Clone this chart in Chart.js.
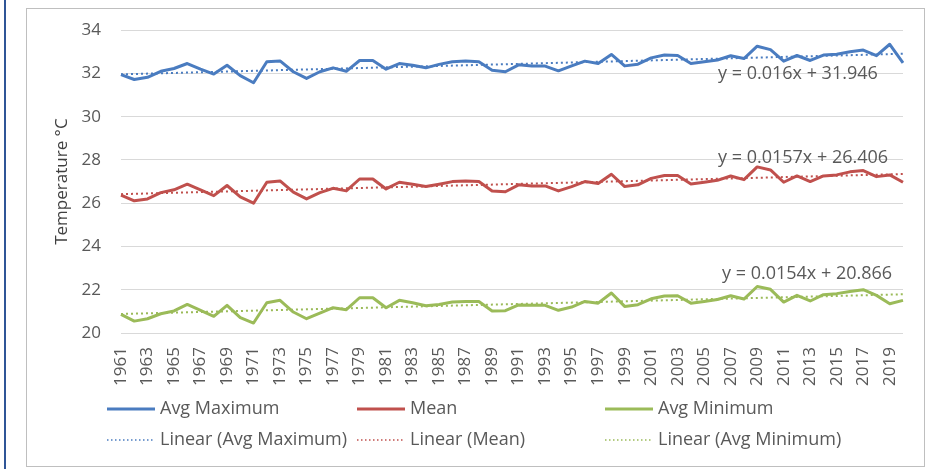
<!DOCTYPE html>
<html><head><meta charset="utf-8">
<script src="https://cdn.jsdelivr.net/npm/chart.js@4/dist/chart.umd.min.js"></script>
<style>
html,body{margin:0;padding:0;background:#fff;}
#wrap{position:relative;width:935px;height:469px;overflow:hidden;background:#fff;}
#bar{position:absolute;left:4px;top:0;width:2px;height:469px;background:#2F5597;}
#box{position:absolute;left:26px;top:8px;width:897px;height:457px;border:1px solid #bfbfbf;}
canvas{position:absolute;left:0;top:0;}
</style></head><body>
<div id="wrap"><div id="bar"></div><div id="box"></div><canvas id="c" width="935" height="469"></canvas></div>
<script>
const years = ['1961','1962','1963','1964','1965','1966','1967','1968','1969','1970','1971','1972','1973','1974','1975','1976','1977','1978','1979','1980','1981','1982','1983','1984','1985','1986','1987','1988','1989','1990','1991','1992','1993','1994','1995','1996','1997','1998','1999','2000','2001','2002','2003','2004','2005','2006','2007','2008','2009','2010','2011','2012','2013','2014','2015','2016','2017','2018','2019','2020'];

const avgMax = [31.95,31.72,31.82,32.10,32.23,32.46,32.20,31.97,32.38,31.90,31.57,32.54,32.58,32.08,31.77,32.08,32.26,32.10,32.60,32.60,32.20,32.46,32.38,32.26,32.42,32.54,32.58,32.54,32.15,32.08,32.40,32.35,32.34,32.12,32.35,32.57,32.46,32.88,32.35,32.43,32.72,32.85,32.83,32.46,32.54,32.62,32.82,32.69,33.26,33.10,32.57,32.83,32.60,32.85,32.89,33.00,33.08,32.82,33.35,32.49];

const mean = [26.38,26.11,26.20,26.49,26.62,26.88,26.62,26.35,26.82,26.29,26.00,26.97,27.03,26.51,26.20,26.49,26.69,26.57,27.12,27.12,26.66,26.97,26.88,26.77,26.88,27.00,27.03,27.00,26.57,26.53,26.85,26.80,26.80,26.57,26.77,27.00,26.91,27.34,26.77,26.85,27.15,27.28,27.28,26.89,26.97,27.06,27.26,27.09,27.68,27.54,26.97,27.26,27.00,27.26,27.31,27.45,27.51,27.23,27.31,26.97];

const avgMin = [20.86,20.55,20.66,20.89,21.02,21.32,21.05,20.77,21.28,20.71,20.46,21.40,21.51,20.97,20.66,20.92,21.17,21.08,21.63,21.63,21.17,21.51,21.40,21.26,21.32,21.43,21.46,21.46,21.02,21.03,21.30,21.28,21.28,21.05,21.20,21.46,21.38,21.85,21.23,21.31,21.58,21.71,21.72,21.38,21.46,21.55,21.72,21.57,22.15,22.02,21.43,21.74,21.48,21.77,21.82,21.92,22.00,21.74,21.35,21.51];

// trendline start / end values (first and last year)
const trendMax = [31.96, 32.91];
const trendMean = [26.42, 27.35];
const trendMin = [20.88, 21.79];

const seriesNames = ['Avg Maximum', 'Mean', 'Avg Minimum'];
const trendNames = ['Linear (Avg Maximum)', 'Linear (Mean)', 'Linear (Avg Minimum)'];
const equations = ['y = 0.016x + 31.946', 'y = 0.0157x + 26.406', 'y = 0.0154x + 20.866'];
const yTicks = [20, 22, 24, 26, 28, 30, 32, 34];

// ---- styling / layout ----
const FONT = '"Open Sans", "Liberation Sans", sans-serif';
const TXT = '#595959';
const colors = ['#4A7CC0', '#C0504D', '#9BBB59'];
const eqPos = [{dx: 597, v: 31.98}, {dx: 597, v: 28.12}, {dx: 601, v: 22.75}];

function trendData(se) {
  return years.map((_, i) => i === 0 ? se[0] : (i === years.length - 1 ? se[1] : null));
}

const extras = {
  id: 'extras',
  afterDraw(chart) {
    const {ctx, chartArea, scales: {y}} = chart;
    ctx.save();
    ctx.fillStyle = TXT;
    ctx.font = '18px ' + FONT;
    ctx.textBaseline = 'middle';
    ctx.textAlign = 'left';
    equations.forEach((t, i) => {
      ctx.fillText(t, chartArea.left + eqPos[i].dx, y.getPixelForValue(eqPos[i].v));
    });
    // legend
    const cols = [107, 357, 605];
    const rows = [409, 440];
    ctx.font = '18px ' + FONT;
    for (let i = 0; i < 3; i++) {
      ctx.strokeStyle = colors[i];
      ctx.lineWidth = 3;
      ctx.setLineDash([]);
      ctx.beginPath(); ctx.moveTo(cols[i], rows[0]); ctx.lineTo(cols[i] + 48, rows[0]); ctx.stroke();
      ctx.fillText(seriesNames[i], cols[i] + 53, rows[0]);
      ctx.lineWidth = 1.5;
      ctx.setLineDash([1.5, 2.5]);
      ctx.beginPath(); ctx.moveTo(cols[i], rows[1]); ctx.lineTo(cols[i] + 48, rows[1]); ctx.stroke();
      ctx.fillText(trendNames[i], cols[i] + 53, rows[1]);
    }
    ctx.restore();
  }
};

const lineDs = (label, data, c) => ({label, data, borderColor: c, backgroundColor: c, borderWidth: 3, pointRadius: 0, tension: 0, borderJoinStyle: 'round', order: 2});
const trendDs = (label, data, c) => ({label, data, borderColor: c, backgroundColor: c, borderWidth: 2, borderDash: [2, 3], pointRadius: 0, spanGaps: true, order: 1});

new Chart(document.getElementById('c'), {
  type: 'line',
  data: {
    labels: years,
    datasets: [
      lineDs(seriesNames[0], avgMax, colors[0]),
      lineDs(seriesNames[1], mean, colors[1]),
      lineDs(seriesNames[2], avgMin, colors[2]),
      trendDs(trendNames[0], trendData(trendMax), colors[0]),
      trendDs(trendNames[1], trendData(trendMean), colors[1]),
      trendDs(trendNames[2], trendData(trendMin), colors[2])
    ]
  },
  options: {
    responsive: false,
    animation: false,
    layout: {padding: {top: 28, right: 32, left: 0, bottom: 0}},
    plugins: {legend: {display: false}, tooltip: {enabled: false}},
    scales: {
      x: {
        grid: {display: false},
        border: {display: false},
        ticks: {
          autoSkip: false, maxRotation: 90, minRotation: 90, padding: 6,
          color: TXT, font: {family: FONT, size: 17},
          callback: (v, i) => (i % 2 === 0 ? years[i] : '')
        },
        afterFit: s => { s.height = 136; }
      },
      y: {
        min: 20, max: 34,
        afterBuildTicks: s => { s.ticks = yTicks.map(v => ({value: v})); },
        ticks: {padding: 20, color: TXT, font: {family: FONT, size: 17}},
        grid: {color: '#d9d9d9', drawTicks: false, lineWidth: 1},
        border: {display: false},
        title: {display: true, text: 'Temperature °C', color: '#404040', font: {family: FONT, size: 17}, padding: {top: 52, bottom: 0}},
        afterFit: s => { s.width = 121; }
      }
    }
  },
  plugins: [extras]
});
</script>
</body></html>
